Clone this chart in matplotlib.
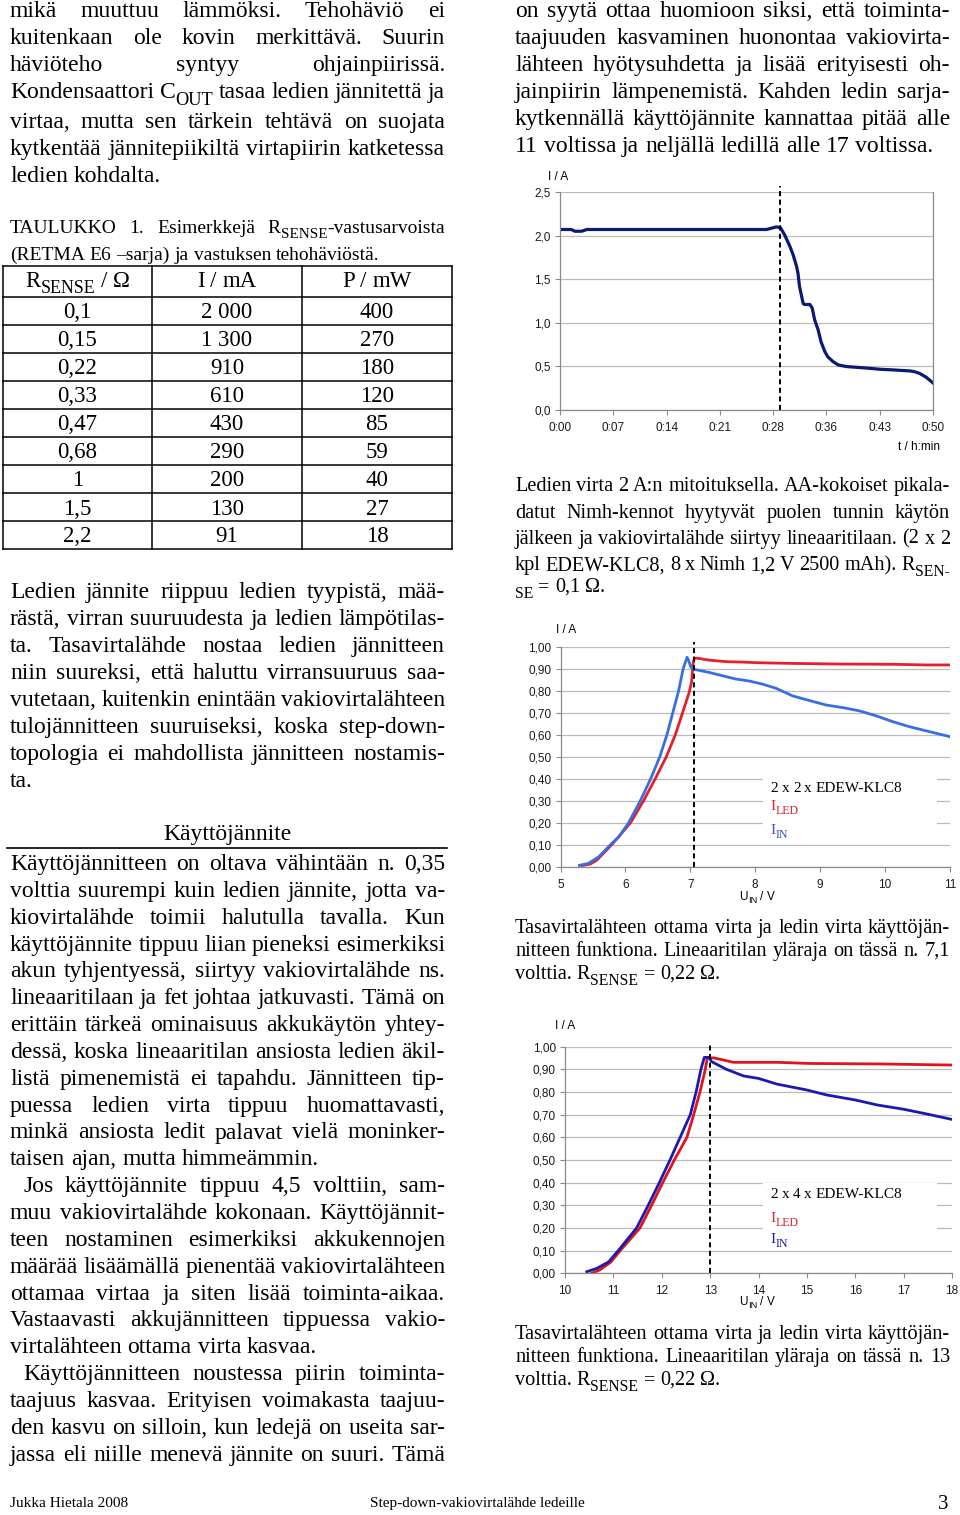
import re
import matplotlib
matplotlib.use("Agg")
import matplotlib.pyplot as plt
from matplotlib.lines import Line2D
from matplotlib.patches import Rectangle

# ---- data -------------------------------------------------------------
# kuva 1: virta ajan funktiona (min, A)
time_min = [0, 1.5, 2.0, 2.9, 3.6, 10, 20, 27.7, 29.0, 29.55, 30.1, 30.8, 31.25,
            31.7, 31.9, 32.1, 32.4, 32.6, 32.8, 33.5, 33.8, 34.15, 34.6, 35.0,
            35.5, 35.9, 36.6, 37.3, 38.4, 39.7, 41.5, 42.9, 44.6, 46.9, 47.5,
            48.2, 49.1, 50.0]
current_a = [2.07, 2.07, 2.05, 2.05, 2.07, 2.07, 2.07, 2.07, 2.10, 2.09, 2.01,
             1.88, 1.78, 1.65, 1.57, 1.42, 1.30, 1.22, 1.21, 1.21, 1.17, 1.03,
             0.92, 0.78, 0.67, 0.61, 0.555, 0.517, 0.498, 0.49, 0.478, 0.467,
             0.46, 0.448, 0.44, 0.42, 0.375, 0.31]
time_labels = ["0:00", "0:07", "0:14", "0:21", "0:28", "0:36", "0:43", "0:50"]
time_limit = 29.5
y1_labels = ["0,0", "0,5", "1,0", "1,5", "2,0", "2,5"]

# kuva 2: 2 x 2 x EDEW-KLC8
u2_in = [5.29, 5.43, 5.59, 5.77, 5.90, 6.05, 6.23, 6.39, 6.53, 6.64, 6.73, 6.82,
         6.89, 6.93, 6.95, 6.98, 7.01, 7.06, 7.29, 7.55, 7.70, 7.91, 8.11, 8.32,
         8.58, 8.84, 9.09, 9.35, 9.61, 9.87, 10.12, 10.38, 10.64, 11.0]
i2_in = [0.006, 0.015, 0.045, 0.10, 0.136, 0.20, 0.30, 0.40, 0.50, 0.60, 0.70,
         0.80, 0.90, 0.935, 0.952, 0.932, 0.906, 0.897, 0.883, 0.864, 0.853,
         0.844, 0.830, 0.811, 0.776, 0.755, 0.735, 0.723, 0.708, 0.685, 0.659,
         0.636, 0.617, 0.591]
u2_led = [5.33, 5.46, 5.56, 5.79, 6.08, 6.28, 6.46, 6.63, 6.77, 6.88, 6.98, 7.02,
          7.04, 7.06, 7.10, 7.29, 7.55, 7.80, 8.06, 8.58, 9.35, 10.12, 10.64, 11.0]
i2_led = [0.005, 0.012, 0.03, 0.10, 0.20, 0.30, 0.40, 0.50, 0.60, 0.70, 0.79,
          0.84, 0.92, 0.947, 0.948, 0.939, 0.932, 0.930, 0.927, 0.924, 0.921,
          0.920, 0.917, 0.917]
u2_limit = 7.05
x2_ticks = [5, 6, 7, 8, 9, 10, 11]

# kuva 3: 2 x 4 x EDEW-KLC8
u3_in = [10.45, 10.66, 10.9, 11.10, 11.48, 11.72, 11.95, 12.17, 12.38, 12.59,
         12.71, 12.81, 12.88, 12.98, 13.03, 13.34, 13.69, 14.0, 14.38, 15.0,
         15.41, 16.0, 16.45, 17.0, 17.48, 18.0]
i3_in = [0.007, 0.022, 0.05, 0.10, 0.20, 0.30, 0.40, 0.50, 0.60, 0.70, 0.80,
         0.90, 0.953, 0.953, 0.934, 0.90, 0.871, 0.86, 0.835, 0.809, 0.787,
         0.765, 0.743, 0.724, 0.703, 0.679]
u3_led = [10.55, 10.72, 10.95, 11.14, 11.55, 11.79, 12.02, 12.26, 12.52, 12.66,
          12.79, 12.90, 12.94, 13.07, 13.28, 13.48, 14.38, 15.07, 16.45, 18.0]
i3_led = [0.0, 0.015, 0.05, 0.10, 0.20, 0.30, 0.40, 0.50, 0.60, 0.70, 0.80,
          0.90, 0.949, 0.951, 0.941, 0.931, 0.931, 0.926, 0.924, 0.919]
u3_limit = 13.0
x3_ticks = [10, 11, 12, 13, 14, 15, 16, 17, 18]

y23_ticks = [0, 0.1, 0.2, 0.3, 0.4, 0.5, 0.6, 0.7, 0.8, 0.9, 1.0]
y23_labels = ["0,00", "0,10", "0,20", "0,30", "0,40", "0,50", "0,60", "0,70",
              "0,80", "0,90", "1,00"]

# taulukko 1
rsense = ["0,1", "0,15", "0,22", "0,33", "0,47", "0,68", "1", "1,5", "2,2"]
current_ma = ["2 000", "1 300", "910", "610", "430", "290", "200", "130", "91"]
power_mw = ["400", "270", "180", "120", "85", "59", "40", "27", "18"]
table_head = ["R_{SENSE} / Ω", "I / mA", "P / mW"]

# ---- texts ------------------------------------------------------------
top_left = [
    "mikä muuttuu lämmöksi. Tehohäviö ei",
    "kuitenkaan ole kovin merkittävä. Suurin",
    "häviöteho syntyy ohjainpiirissä.",
    "Kondensaattori C_{OUT} tasaa ledien jännitettä ja",
    "virtaa, mutta sen tärkein tehtävä on suojata",
    "kytkentää jännitepiikiltä virtapiirin katketessa",
    "ledien kohdalta.",
]
table_caption = [
    "TAULUKKO 1. Esimerkkejä R_{SENSE}-vastusarvoista",
    "(RETMA E6 –sarja) ja vastuksen tehohäviöstä.",
]
led_voltage = [
    "Ledien jännite riippuu ledien tyypistä, mää-",
    "rästä, virran suuruudesta ja ledien lämpötilas-",
    "ta. Tasavirtalähde nostaa ledien jännitteen",
    "niin suureksi, että haluttu virransuuruus saa-",
    "vutetaan, kuitenkin enintään vakiovirtalähteen",
    "tulojännitteen suuruiseksi, koska step-down-",
    "topologia ei mahdollista jännitteen nostamis-",
    "ta.",
]
heading = "Käyttöjännite"
supply_1 = [
    "Käyttöjännitteen on oltava vähintään n. 0,35",
    "volttia suurempi kuin ledien jännite, jotta va-",
    "kiovirtalähde toimii halutulla tavalla. Kun",
    "käyttöjännite tippuu liian pieneksi esimerkiksi",
    "akun tyhjentyessä, siirtyy vakiovirtalähde ns.",
    "lineaaritilaan ja fet johtaa jatkuvasti. Tämä on",
    "erittäin tärkeä ominaisuus akkukäytön yhtey-",
    "dessä, koska lineaaritilan ansiosta ledien äkil-",
    "listä pimenemistä ei tapahdu. Jännitteen tip-",
    "puessa ledien virta tippuu huomattavasti,",
    "minkä ansiosta ledit palavat vielä moninker-",
    "taisen ajan, mutta himmeämmin.",
]
supply_2 = [
    "Jos käyttöjännite tippuu 4,5 volttiin, sam-",
    "muu vakiovirtalähde kokonaan. Käyttöjännit-",
    "teen nostaminen esimerkiksi akkukennojen",
    "määrää lisäämällä pienentää vakiovirtalähteen",
    "ottamaa virtaa ja siten lisää toiminta-aikaa.",
    "Vastaavasti akkujännitteen tippuessa vakio-",
    "virtalähteen ottama virta kasvaa.",
]
supply_3 = [
    "Käyttöjännitteen noustessa piirin toiminta-",
    "taajuus kasvaa. Erityisen voimakasta taajuu-",
    "den kasvu on silloin, kun ledejä on useita sar-",
    "jassa eli niille menevä jännite on suuri. Tämä",
]
top_right = [
    "on syytä ottaa huomioon siksi, että toiminta-",
    "taajuuden kasvaminen huonontaa vakiovirta-",
    "lähteen hyötysuhdetta ja lisää erityisesti oh-",
    "jainpiirin lämpenemistä. Kahden ledin sarja-",
    "kytkennällä käyttöjännite kannattaa pitää alle",
    "11 voltissa ja neljällä ledillä alle 17 voltissa.",
]
caption_1 = [
    "Ledien virta 2 A:n mitoituksella. AA-kokoiset pikala-",
    "datut Nimh-kennot hyytyvät puolen tunnin käytön",
    "jälkeen ja vakiovirtalähde siirtyy lineaaritilaan. (2 x 2",
    "kpl EDEW-KLC8, 8 x Nimh 1,2 V 2500 mAh). R_{SEN-}",
    "_{SE} = 0,1 Ω.",
]
caption_2 = [
    "Tasavirtalähteen ottama virta ja ledin virta käyttöjän-",
    "nitteen funktiona. Lineaaritilan yläraja on tässä n. 7,1",
    "volttia. R_{SENSE} = 0,22 Ω.",
]
caption_3 = [
    "Tasavirtalähteen ottama virta ja ledin virta käyttöjän-",
    "nitteen funktiona. Lineaaritilan yläraja on tässä n. 13",
    "volttia. R_{SENSE} = 0,22 Ω.",
]

SERIF = ["Liberation Serif", "DejaVu Serif"]
SANS = ["Liberation Sans", "DejaVu Sans"]
plt.rcParams["font.family"] = SERIF

W, H = 960, 1515
PX = 100 / 72
fig = plt.figure(figsize=(W / 100, H / 100), dpi=100)
fig.patch.set_facecolor("white")
renderer = fig.canvas.get_renderer()


def fx(x):
    return x / W


def fy(y):
    return 1 - y / H


def make_word(word, size, family, color):
    parts = []
    for seg in re.split(r"(_\{[^}]*\})", word):
        if not seg:
            continue
        if seg.startswith("_{"):
            t = fig.text(0, 0, seg[2:-1], fontsize=size * 0.78, family=family,
                         color=color, ha="left", va="baseline")
            dy = size * 0.28 * PX
        else:
            t = fig.text(0, 0, seg, fontsize=size, family=family, color=color,
                         ha="left", va="baseline")
            dy = 0
        parts.append((t, t.get_window_extent(renderer).width, dy))
    return parts


def put_line(x0, x1, y, line, size, align="left", family=SERIF, color="black"):
    words = [make_word(w, size, family, color) for w in line.split()]
    widths = [sum(p[1] for p in w) for w in words]
    gap = size * PX * 0.25
    if align == "justify" and len(words) > 1:
        gap = max((x1 - x0 - sum(widths)) / (len(words) - 1), gap * 0.5)
    total = sum(widths) + gap * (len(words) - 1)
    x = x0
    if align == "center":
        x = (x0 + x1) / 2 - total / 2
    for parts, w in zip(words, widths):
        cur = x
        for t, pw, dy in parts:
            t.set_position((fx(cur), fy(y + dy)))
            cur += pw
        x += w + gap


def paragraph(lines, x0, x1, y0, step, size, indent=0, last_full=False):
    for i, line in enumerate(lines):
        last = i == len(lines) - 1 and not last_full
        put_line(x0 + (indent if i == 0 else 0), x1, y0 + i * step, line, size,
                 "left" if last else "justify")


def seg(x0, y0, x1, y1, lw=1.1, color="black"):
    fig.add_artist(Line2D([fx(x0), fx(x1)], [fy(y0), fy(y1)],
                          transform=fig.transFigure, color=color, lw=lw))


BODY = 17
CAP = 14.6
LX0, LX1 = 10, 445
RX0, RX1 = 515, 950

# ---- left column ------------------------------------------------------
paragraph(top_left[:4], LX0, LX1, 17, 27, BODY, last_full=True)
paragraph(top_left[4:], LX0, LX1, 128, 27, BODY)
paragraph(table_caption, LX0, LX1, 233, 27, 14)

# table
col_x = [3, 152, 302, 452]
row_y = [266, 297] + [297 + 28 * k for k in range(1, len(rsense) + 1)]
for y in row_y:
    seg(col_x[0], y, col_x[-1], y)
for x in col_x:
    seg(x, row_y[0], x, row_y[-1])
for c, head in enumerate(table_head):
    put_line(col_x[c], col_x[c + 1], 287, head, 16.5, "center")
for r, row in enumerate(zip(rsense, current_ma, power_mw)):
    for c, val in enumerate(row):
        fig.text(fx((col_x[c] + col_x[c + 1]) / 2), fy(row_y[r + 1] + 21.5), val,
                 fontsize=16.5, ha="center", va="baseline")

paragraph(led_voltage, LX0, LX1, 598, 27, BODY)
put_line(LX0, LX1, 840, heading, BODY, "center")
seg(7, 848, 447, 848, lw=1.2)
STEP = 26.85
paragraph(supply_1, LX0, LX1, 870, STEP, BODY)
paragraph(supply_2, LX0, LX1, 870 + 12 * STEP, STEP, BODY, indent=13)
paragraph(supply_3, LX0, LX1, 870 + 19 * STEP, STEP, BODY, indent=13, last_full=True)

# ---- right column -----------------------------------------------------
paragraph(top_right, RX0, RX1, 17, 27, BODY)
paragraph(caption_1[:4], RX0, RX1, 491.5, 26.2, CAP, last_full=True)
put_line(RX0, RX1, 592, caption_1[4], CAP)
paragraph(caption_2, RX0, RX1, 933, 23, CAP)
paragraph(caption_3, RX0, RX1, 1339, 23, CAP)


def chart_axes(left, top, right, bottom):
    return fig.add_axes([fx(left), fy(bottom), (right - left) / W, (bottom - top) / H])


def style(ax, right_spine=False):
    ax.spines["top"].set_visible(False)
    ax.spines["right"].set_visible(right_spine)
    for side in ("left", "bottom", "right"):
        ax.spines[side].set_color("#8a8a8a")
        ax.spines[side].set_linewidth(0.9)
    ax.grid(axis="y", color="#bcbcbc", lw=0.9)
    ax.set_axisbelow(True)
    ax.tick_params(direction="out", length=3.5, width=0.8, color="#8a8a8a")
    ax.tick_params(axis="x", pad=5)
    ax.tick_params(axis="y", pad=3.2)


TICK = dict(fontfamily=SANS, fontsize=8.5, color="#1a1a1a")

# kuva 1
ax1 = chart_axes(560, 192, 933, 410)
ax1.plot(time_min, current_a, color="#0d1a73", lw=2.3, solid_joinstyle="round")
ax1.plot([time_limit, time_limit], [0, 2.57], color="black", lw=1.4,
         ls=(0, (2.6, 1.8)), clip_on=False)
ax1.set_xlim(0, 50)
ax1.set_ylim(0, 2.5)
ax1.set_xticks([50 / 7 * i for i in range(len(time_labels))], time_labels, **TICK)
ax1.set_yticks([0.5 * i for i in range(len(y1_labels))], y1_labels, **TICK)
style(ax1, right_spine=True)
fig.text(fx(558), fy(177), "I / A", family=SANS, fontsize=8.5, ha="center", va="center")
fig.text(fx(940), fy(447), "t / h:min", family=SANS, fontsize=8.5, ha="right", va="center")

# kuva 2
ax2 = chart_axes(560.5, 646.7, 950, 866.7)
ax2.plot(u2_led, i2_led, color="#e3202b", lw=2.0, solid_joinstyle="round")
ax2.plot(u2_in, i2_in, color="#3a6ee0", lw=2.0, solid_joinstyle="round")
ax2.plot([u2_limit, u2_limit], [0, 1.02], color="black", lw=1.4,
         ls=(0, (2.6, 1.8)), clip_on=False)
ax2.set_xlim(5, 11)
ax2.set_ylim(0, 1.0)
ax2.set_xticks(x2_ticks, [str(v) for v in x2_ticks], **TICK)
ax2.set_yticks(y23_ticks, y23_labels, **TICK)
style(ax2)
fig.text(fx(566), fy(630), "I / A", family=SANS, fontsize=8.5, ha="center", va="center")
put_line(700, 814, 900, "U_{IN} / V", 8.5, "center", family=SANS)
fig.add_artist(Rectangle((fx(763), fy(842)), 174 / W, 65 / H, transform=fig.transFigure,
                         fc="white", ec="none", zorder=1))
put_line(770, 940, 791.5, "2 x 2 x EDEW-KLC8", 11)
put_line(770, 940, 810, "I_{LED}", 11, color="#d8202a")
put_line(770, 940, 834, "I_{IN}", 11, color="#3050c8")

# kuva 3
ax3 = chart_axes(565, 1046.7, 952, 1273.3)
ax3.plot(u3_led, i3_led, color="#e0141e", lw=2.0, solid_joinstyle="round")
ax3.plot(u3_in, i3_in, color="#1a1ab0", lw=2.0, solid_joinstyle="round")
ax3.plot([u3_limit, u3_limit], [0, 1.02], color="black", lw=1.4,
         ls=(0, (2.6, 1.8)), clip_on=False)
ax3.set_xlim(10, 18)
ax3.set_ylim(0, 1.0)
ax3.set_xticks(x3_ticks, [str(v) for v in x3_ticks], **TICK)
ax3.set_yticks(y23_ticks, y23_labels, **TICK)
style(ax3)
fig.text(fx(565), fy(1026), "I / A", family=SANS, fontsize=8.5, ha="center", va="center")
put_line(700, 814, 1305, "U_{IN} / V", 8.5, "center", family=SANS)
fig.add_artist(Rectangle((fx(763), fy(1248)), 174 / W, 65 / H, transform=fig.transFigure,
                         fc="white", ec="none", zorder=1))
put_line(770, 940, 1198, "2 x 4 x EDEW-KLC8", 11)
put_line(770, 940, 1221.5, "I_{LED}", 11, color="#d8202a")
put_line(770, 940, 1243, "I_{IN}", 11, color="#1a1ab0")

# ---- footer -----------------------------------------------------------
fig.text(fx(10), fy(1507), "Jukka Hietala 2008", fontsize=11, ha="left", va="baseline")
fig.text(fx(370), fy(1507), "Step-down-vakiovirtalähde ledeille", fontsize=11,
         ha="left", va="baseline")
fig.text(fx(943), fy(1509), "3", fontsize=15, ha="center", va="baseline")

fig.savefig("out.png", dpi=100, facecolor="white")
